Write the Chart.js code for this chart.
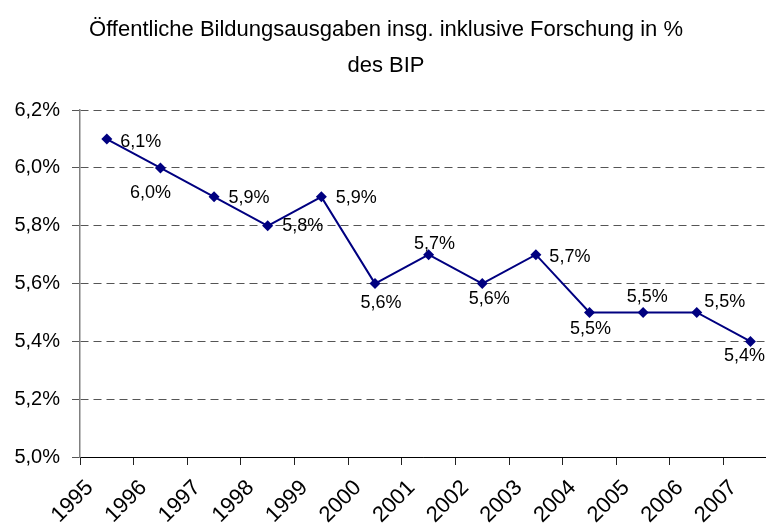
<!DOCTYPE html>
<html lang="de">
<head>
  <meta charset="utf-8">
  <title>Bildungsausgaben</title>
  <style type="text/css">
  html, body { margin: 0; padding: 0; background: #fff; overflow: hidden; }
  #wrap { width: 766px; height: 530px; overflow: hidden; }
  </style>
</head>
<body>

<div id="wrap">
  <canvas id="myChart" width="772" height="530"></canvas>
</div>

<script src="https://cdn.jsdelivr.net/npm/chart.js"></script>

<script>
  // chart data
  const YEARS = ['1995','1996','1997','1998','1999','2000','2001','2002','2003','2004','2005','2006','2007'];
  const SHARE = [6.1, 6.0, 5.9, 5.8, 5.9, 5.6, 5.7, 5.6, 5.7, 5.5, 5.5, 5.5, 5.4];
  const Y_MIN = 5.0;
  const Y_MAX = 6.2;
  const Y_STEP = 0.2;
  const TITLE = ['Öffentliche Bildungsausgaben insg. inklusive Forschung in %', 'des BIP'];

  // where each value label sits relative to its point (dx, dy in px)
  const LABEL_SHIFT = [[34,3],[-10,25],[35,1],[35,0],[35,1],[6,19],[6,-11],[7,15],[34,2],[1,17],[4,-15],[28,-10],[-6,15]];

  const FONT = 'Liberation Sans, Arial, sans-serif';
  const fmt = (v) => v.toFixed(1).replace('.', ',') + '%';

  const valueLabels = {
    id: 'valueLabels',
    afterDatasetsDraw(chart) {
      const c = chart.ctx;
      const meta = chart.getDatasetMeta(0);
      c.save();
      c.font = '18px ' + FONT;
      c.fillStyle = '#000';
      c.textAlign = 'center';
      c.textBaseline = 'middle';
      meta.data.forEach((pt, i) => {
        const s = LABEL_SHIFT[i];
        c.fillText(fmt(SHARE[i]), pt.x + s[0], pt.y + s[1]);
      });
      c.restore();
    }
  };

  const ctx = document.getElementById('myChart');

  const our_chart = new Chart(ctx, {
    type: 'line',
    data: {
      datasets: [{
        data: SHARE.map((v, i) => ({x: i, y: v})),
        borderColor: '#000080',
        backgroundColor: '#000080',
        borderWidth: 2,
        pointStyle: 'rectRot',
        pointRadius: 5.5,
        pointBorderWidth: 0,
        tension: 0
      }]
    },
    plugins: [valueLabels],
    options: {
      responsive: false,
      animation: false,
      layout: { padding: { left: 0, right: 0, top: 0, bottom: 0 } },
      plugins: {
        legend: { display: false },
        tooltip: { enabled: false },
        title: {
          display: true,
          text: TITLE,
          color: '#000',
          font: { family: FONT, size: 22, weight: 'normal', lineHeight: 1.64 },
          padding: { top: 12, bottom: 26 }
        }
      },
      scales: {
        x: {
          type: 'linear',
          min: -0.5,
          max: 12.3,
          afterBuildTicks: (axis) => { axis.ticks = YEARS.map((_, i) => ({value: i})); },
          afterFit: (axis) => {
            axis.height = 73;
            axis.paddingLeft = 0;
            axis.paddingRight = 0;
          },
          grid: {
            offset: true,
            drawOnChartArea: false,
            tickLength: 8,
            color: '#222'
          },
          border: { color: '#000', width: 1 },
          ticks: {
            autoSkip: false,
            maxRotation: 45,
            minRotation: 45,
            padding: 10,
            labelOffset: -17,
            color: '#000',
            font: { family: FONT, size: 22 },
            callback: (v, i) => YEARS[i]
          }
        },
        y: {
          min: Y_MIN,
          max: Y_MAX,
          afterBuildTicks: (axis) => {
            const t = [];
            for (let v = Y_MIN; v <= Y_MAX + 1e-9; v += Y_STEP) t.push({value: Math.round(v * 10) / 10});
            axis.ticks = t;
          },
          afterFit: (axis) => { axis.width = 80; },
          grid: {
            color: '#555',
            lineWidth: 1,
            tickLength: 8,
            tickColor: '#555'
          },
          border: { color: '#808080', width: 1.5, dash: [8, 5] },
          ticks: {
            padding: 12,
            color: '#000',
            font: { family: FONT, size: 20 },
            callback: (v) => fmt(v)
          }
        }
      }
    }
  });
</script>
</body>
</html>
